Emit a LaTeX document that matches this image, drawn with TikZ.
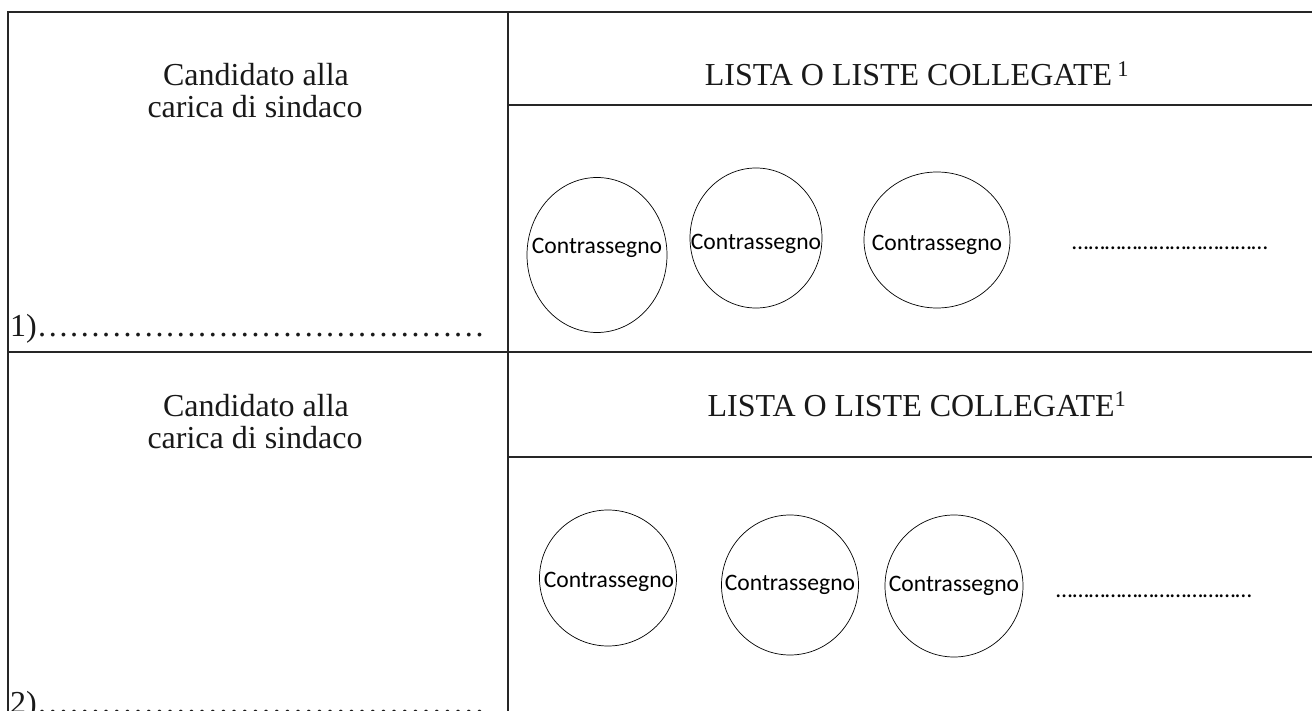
\documentclass[tikz,border=0pt]{standalone}
\usepackage{fontspec}
\setmainfont{Liberation Serif}
\newfontfamily\calfont{Carlito}
\usetikzlibrary{shapes.geometric}
\newcommand\rowdots[1]{\foreach \k in {1,...,#1}{…}}
\begin{document}
\begin{tikzpicture}[x=1pt,y=-1pt,
  frame/.style={line width=1.5pt, draw=black!85},
  logo/.style={draw=black, ellipse, line width=0.7pt, inner sep=0pt},
  serif/.style={font=\fontsize{32}{36}\selectfont, inner sep=0pt, anchor=base, text=black!90},
  cal/.style={font=\calfont\fontsize{23.6}{28}\selectfont, inner sep=0pt, anchor=base, text=black}]
\useasboundingbox (0,0) rectangle (1312,711);
% frame coordinates
\coordinate (tl) at (8,12);
\coordinate (tr) at (1312,12);
\coordinate (bl) at (8,711);
\coordinate (dt) at (508,12);
\coordinate (db) at (508,711);
\coordinate (h1l) at (508,105);
\coordinate (h1r) at (1312,105);
\coordinate (ml) at (8,352);
\coordinate (mr) at (1312,352);
\coordinate (h2l) at (508,457);
\coordinate (h2r) at (1312,457);
\draw[frame] (bl) -- (tl) -- (tr);
\draw[frame] (dt) -- (db);
\draw[frame] (h1l) -- (h1r);
\draw[frame] (ml) -- (mr);
\draw[frame] (h2l) -- (h2r);
% row 1
\node[serif] (c1a) at (256,86) {Candidato alla};
\node[serif] (c1b) at (255,118) {carica di sindaco};
\node[serif, anchor=base west] (n1) at (10,337) {1)\rowdots{14}};
\node[serif] (l1) at (917,86) {LISTA O LISTE COLLEGATE\,\textsuperscript{1}};
\node[logo, minimum width=140, minimum height=155] (e11) at (597,255) {};
\node[logo, minimum width=132, minimum height=140] (e12) at (756,238) {};
\node[logo, minimum width=146, minimum height=136] (e13) at (937,240) {};
\node[cal] (t11) at (597,254) {Contrassegno};
\node[cal] (t12) at (756,250) {Contrassegno};
\node[cal] (t13) at (937,251) {Contrassegno};
\node[cal] (d1) at (1170,250) {\rowdots{12}};
% row 2
\node[serif] (c2a) at (256,416) {Candidato alla};
\node[serif] (c2b) at (255,448) {carica di sindaco};
\node[serif, anchor=base west] (n2) at (10,713) {2)\rowdots{14}};
\node[serif] (l2) at (917,416) {LISTA O LISTE COLLEGATE\textsuperscript{1}};
\node[logo, minimum width=137, minimum height=136] (e21) at (608,578) {};
\node[logo, minimum width=137, minimum height=140] (e22) at (790,585) {};
\node[logo, minimum width=138, minimum height=142] (e23) at (954,586) {};
\node[cal] (t21) at (609,587) {Contrassegno};
\node[cal] (t22) at (790,590) {Contrassegno};
\node[cal] (t23) at (954,591) {Contrassegno};
\node[cal] (d2) at (1154,597) {\rowdots{12}};
\end{tikzpicture}
\end{document}
